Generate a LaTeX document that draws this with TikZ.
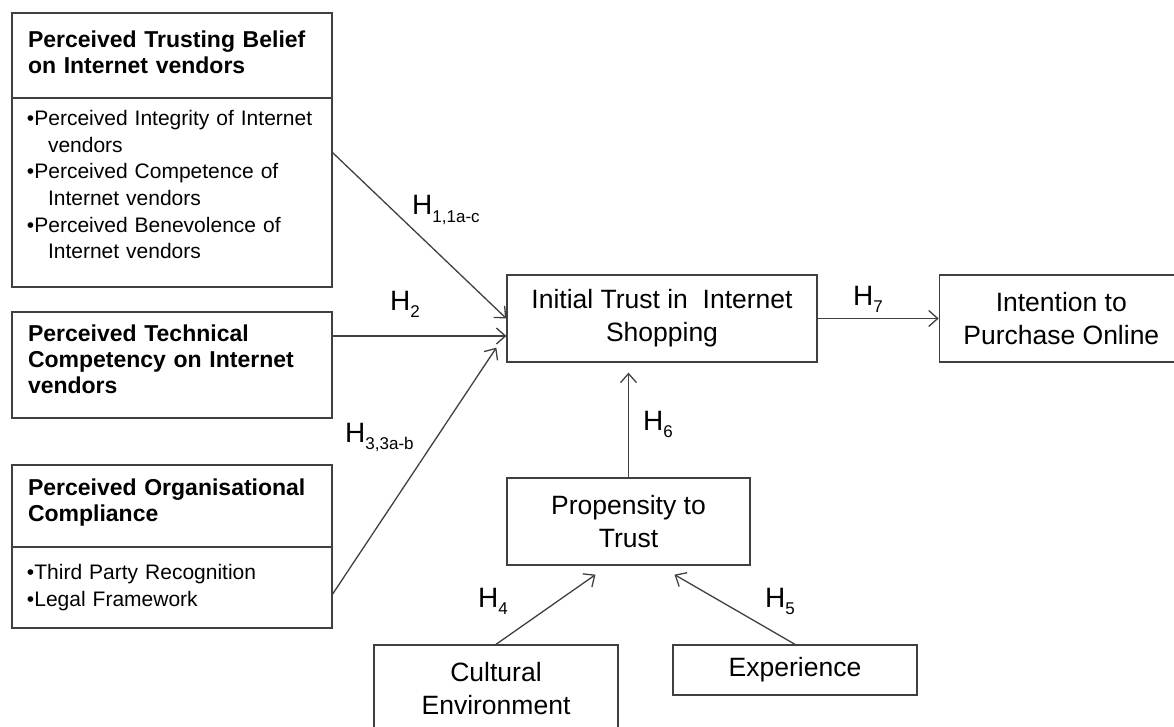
\documentclass[tikz,border=0pt]{standalone}
\usepackage{fontspec}
\setmainfont{Liberation Sans}
\usepackage{xcolor}
\definecolor{lgray}{RGB}{64,64,64}
\usetikzlibrary{arrows.meta,positioning,calc}

\newcommand{\hyp}[1]{H\raisebox{-7pt}{\fontsize{17}{17}\selectfont #1}}

\begin{document}
\begin{tikzpicture}[x=1pt,y=-1pt,
  hbox/.style={rectangle,draw=lgray,line width=1.3pt,outer sep=0pt,text width=288pt,inner xsep=16pt,align=left,font=\bfseries\fontsize{23}{26}\selectfont},
  lbox/.style={rectangle,draw=lgray,line width=1.3pt,outer sep=0pt,text width=290pt,inner xsep=15pt,align=left,font=\fontsize{21}{26.7}\selectfont},
  cbox/.style={rectangle,draw=lgray,line width=1.3pt,minimum width=244pt,minimum height=87pt,align=center,font=\fontsize{26.5}{33}\selectfont},
  hlab/.style={anchor=base west,inner sep=0pt,font=\fontsize{28}{28}\selectfont},
  arrow/.style={-{Straight Barb[length=9pt,width=16pt]},line width=1.3pt,lgray}
]
  \useasboundingbox (0,0) rectangle (1174,727);

  % === Left column ===
  \node[hbox,minimum height=85pt] (tbh) at (172,55.5) {Perceived Trusting Belief\\on Internet vendors\\[-20pt]\mbox{}};
  \node[lbox,minimum height=189pt,anchor=north] (tbl) at (tbh.south) {%
    •Perceived Integrity of Internet\\\hspace*{21pt}vendors\\
    •Perceived Competence of\\\hspace*{21pt}Internet vendors\\
    •Perceived Benevolence of\\\hspace*{21pt}Internet vendors\\[-10.7pt]\mbox{}};
  \node[hbox,minimum height=106pt,below=25pt of tbl] (tc) {Perceived Technical\\Competency on Internet\\vendors\\[-14pt]\mbox{}};
  \node[hbox,minimum height=82pt,below=47pt of tc] (och) {Perceived Organisational\\Compliance\\[-15pt]\mbox{}};
  \node[lbox,minimum height=81pt,anchor=north] (ocl) at (och.south) {%
    •Third Party Recognition\\•Legal Framework};

  % === Centre and right ===
  \node[cbox,minimum width=310pt] (it) at (662,318.5) {Initial Trust in~ Internet\\Shopping};
  \node[cbox,right=121pt of it] (ip) {Intention to\\Purchase Online};
  \node[cbox,minimum width=243pt] (pt) at (628.5,521.5) {Propensity to\\Trust};
  \node[cbox] (ce) at (496,688.5) {Cultural\\Environment};
  \node[cbox,minimum height=50pt] (ex) at (795,670) {Experience};

  % === Hypotheses ===
  \coordinate (in2) at ([yshift=-17.5pt]it.west);
  \draw[arrow] ($(tbl.north east)!0.286!(tbl.south east)$) -- (it.west);
  \draw[arrow] (tc.east |- in2) -- (in2);
  \draw[arrow] ([yshift=-7.5pt]ocl.east) -- ([xshift=-10pt,yshift=15pt]it.south west);
  \draw[arrow] (it) -- (ip);
  \draw[arrow,shorten >=10pt] (pt.north) -- (pt.north |- it.south);
  \draw[arrow] (ce.north) -- ([xshift=-33pt,yshift=-9pt]pt.south);
  \draw[arrow] (ex.north) -- ([xshift=46pt,yshift=-9pt]pt.south);

  \node[hlab] (h1) at (412,215) {\hyp{1,1a-c}};
  \node[hlab] (h2) at (390,310) {\hyp{2}};
  \node[hlab] (h3) at (345,442) {\hyp{3,3a-b}};
  \node[hlab] (h7) at (853,305) {\hyp{7}};
  \node[hlab] (h6) at (643,430) {\hyp{6}};
  \node[hlab] (h4) at (478,607) {\hyp{4}};
  \node[hlab] (h5) at (765,607) {\hyp{5}};
\end{tikzpicture}
\end{document}
